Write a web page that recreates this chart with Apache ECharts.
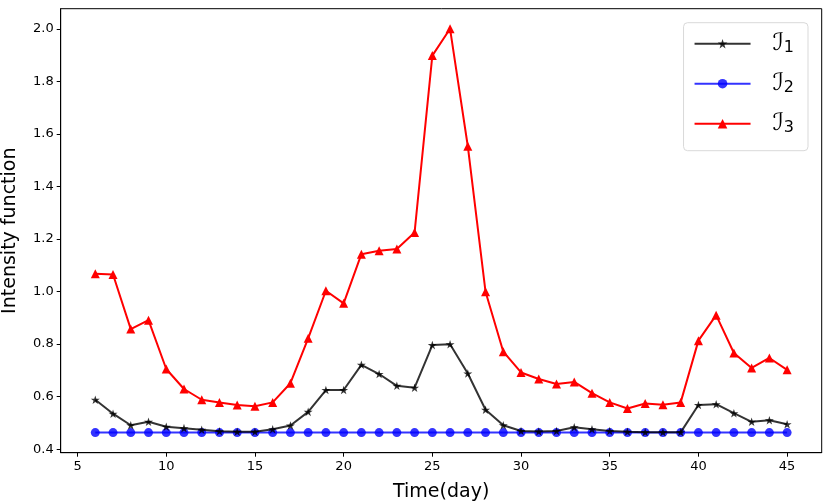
<!DOCTYPE html>
<html>
<head>
<meta charset="utf-8">
<script src="https://cdn.jsdelivr.net/npm/echarts@6/dist/echarts.min.js"></script>
<style>html,body{margin:0;padding:0;background:#fff}#c{width:830px;height:501px}</style>
</head>
<body>
<div id="c"></div>
<script>
const days = [6,7,8,9,10,11,12,13,14,15,16,17,18,19,20,21,22,23,24,25,26,27,28,29,30,31,32,33,34,35,36,37,38,39,40,41,42,43,44,45];
const I1 = [0.588,0.535,0.491,0.504,0.485,0.480,0.474,0.468,0.466,0.466,0.476,0.490,0.542,0.625,0.625,0.721,0.686,0.641,0.634,0.796,0.799,0.688,0.550,0.491,0.469,0.467,0.469,0.483,0.476,0.469,0.466,0.464,0.464,0.464,0.568,0.571,0.537,0.504,0.510,0.495];
const I2 = [0.463,0.463,0.463,0.463,0.463,0.463,0.463,0.463,0.463,0.463,0.463,0.463,0.463,0.463,0.463,0.463,0.463,0.463,0.463,0.463,0.463,0.463,0.463,0.463,0.463,0.463,0.463,0.463,0.463,0.463,0.463,0.463,0.463,0.463,0.463,0.463,0.463,0.463,0.463,0.463];
const I3 = [1.068,1.065,0.857,0.891,0.705,0.629,0.588,0.578,0.568,0.563,0.578,0.651,0.822,1.003,0.955,1.142,1.155,1.162,1.225,1.898,2.000,1.553,0.999,0.771,0.692,0.667,0.648,0.656,0.613,0.578,0.555,0.574,0.569,0.578,0.813,0.910,0.766,0.709,0.747,0.702];
const xTicks = [5,10,15,20,25,30,35,40,45];
const yTicks = [0.4,0.6,0.8,1.0,1.2,1.4,1.6,1.8,2.0];
const seriesNames = ['I1','I2','I3'];

const pair = arr => days.map((d,i)=>[d,arr[i]]);
const star = 'path://M0,-10 L2.245,-3.09 L9.51,-3.09 L3.633,1.18 L5.878,8.09 L0,3.82 L-5.878,8.09 L-3.633,1.18 L-9.51,-3.09 L-2.245,-3.09 Z';
const font = 'DejaVu Sans';

const chart = echarts.init(document.getElementById('c'), null, {renderer:'canvas'});
chart.setOption({
  animation: false,
  backgroundColor: '#fff',
  grid: {left: 60.7, right: 8.3, top: 8.7, bottom: 48.3, outerBoundsMode: 'none', containLabel: false,
    show: true, borderColor: '#000', borderWidth: 1, backgroundColor: 'transparent'},
  xAxis: {
    type: 'value', min: 4.05, max: 46.95,
    name: 'Time(day)', nameLocation: 'middle', nameGap: 30,
    nameTextStyle: {fontFamily: font, fontSize: 19, color: '#000'},
    axisLine: {show: true, onZero: false, lineStyle: {color: '#000', width: 1}},
    axisTick: {show: true, length: 4, customValues: xTicks, lineStyle: {color: '#000'}},
    axisLabel: {customValues: xTicks, fontFamily: font, fontSize: 13, color: '#000', margin: 7},
    splitLine: {show: false}
  },
  yAxis: {
    type: 'value', min: 0.3865, max: 2.0765,
    name: 'Intensity function', nameLocation: 'middle', nameGap: 41,
    nameTextStyle: {fontFamily: font, fontSize: 19, color: '#000'},
    axisLine: {show: true, onZero: false, lineStyle: {color: '#000', width: 1}},
    axisTick: {show: true, length: 4, customValues: yTicks, lineStyle: {color: '#000'}},
    axisLabel: {customValues: yTicks, fontFamily: font, fontSize: 13, color: '#000', margin: 7,
      formatter: v => v.toFixed(1)},
    splitLine: {show: false}
  },
  legend: {
    orient: 'vertical', right: 22, top: 22.7,
    padding: [9, 14, 15, 10], itemGap: 16, itemWidth: 56, itemHeight: 12,
    backgroundColor: '#fff', borderColor: '#d9d9d9', borderWidth: 1, borderRadius: 4,
    data: seriesNames,
    formatter: n => '{a|ℐ}{b|' + n.slice(1) + '}',
    textStyle: {
      padding: [0,0,0,17],
      rich: {
        a: {fontFamily: font, fontSize: 24, fontStyle: 'italic', color: '#000', lineHeight: 24},
        b: {fontFamily: font, fontSize: 16, color: '#000', verticalAlign: 'bottom', lineHeight: 18, padding: [8,0,0,0]}
      }
    }
  },
  series: [
    {name: 'I1', type: 'line', data: pair(I1), symbol: star, symbolSize: 9, symbolKeepAspect: true,
      lineStyle: {color: 'rgba(0,0,0,0.8)', width: 2}, itemStyle: {color: 'rgba(0,0,0,0.8)'}, z: 3},
    {name: 'I2', type: 'line', data: pair(I2), symbol: 'circle', symbolSize: 9,
      lineStyle: {color: 'rgba(0,0,255,0.8)', width: 2}, itemStyle: {color: 'rgba(0,0,255,0.8)'}, z: 2},
    {name: 'I3', type: 'line', data: pair(I3), symbol: 'triangle', symbolSize: 9,
      lineStyle: {color: '#ff0000', width: 2}, itemStyle: {color: '#ff0000'}, z: 4}
  ]
});
</script>
</body>
</html>
